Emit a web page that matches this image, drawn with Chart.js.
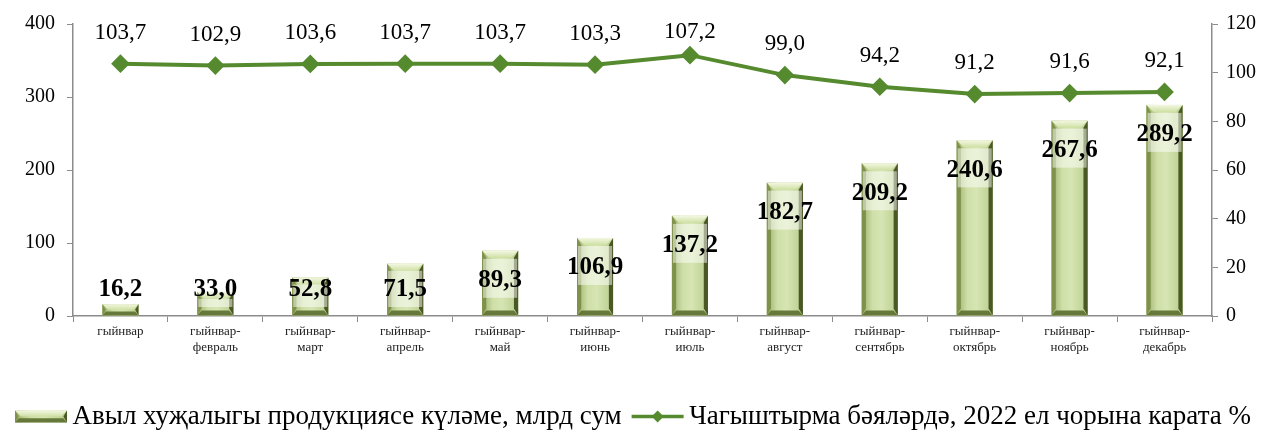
<!DOCTYPE html>
<html>
<head>
<meta charset="utf-8">
<script src="https://cdn.jsdelivr.net/npm/chart.js@4.4.1/dist/chart.umd.min.js"></script>
<style>
  html, body { margin: 0; padding: 0; background: #fff; }
  #wrap { width: 1266px; height: 432px; }
</style>
</head>
<body>
<div id="wrap"><canvas id="chart" width="1266" height="432"></canvas></div>
<script>
// Chart data
const categories = [
  ['гыйнвар'],
  ['гыйнвар-', 'февраль'],
  ['гыйнвар-', 'март'],
  ['гыйнвар-', 'апрель'],
  ['гыйнвар-', 'май'],
  ['гыйнвар-', 'июнь'],
  ['гыйнвар-', 'июль'],
  ['гыйнвар-', 'август'],
  ['гыйнвар-', 'сентябрь'],
  ['гыйнвар-', 'октябрь'],
  ['гыйнвар-', 'ноябрь'],
  ['гыйнвар-', 'декабрь']
];
const volume = [16.2, 33.0, 52.8, 71.5, 89.3, 106.9, 137.2, 182.7, 209.2, 240.6, 267.6, 289.2];
const priceIndex = [103.7, 102.9, 103.6, 103.7, 103.7, 103.3, 107.2, 99.0, 94.2, 91.2, 91.6, 92.1];
const leftTicks = [0, 100, 200, 300, 400];
const rightTicks = [0, 20, 40, 60, 80, 100, 120];
const volumeLabel = 'Авыл хуҗалыгы продукциясе күләме, млрд сум';
const indexLabel = 'Чагыштырма бәяләрдә, 2022 ел чорына карата %';

const FONT = "'Liberation Serif', 'Times New Roman', serif";
const LINE_GREEN = '#558a2f';
const AXIS_GRAY = '#8c8c8c';
const LEGEND_SYMBOL_W = 52;

const fmt = v => v.toFixed(1).replace('.', ',');

// draws one bevelled green column
function drawBevelBar(ctx, l, r, top, bottom) {
  const h = bottom - top;
  if (h <= 0) return;
  const b = Math.min(7, h / 2);
  const face = ctx.createLinearGradient(l, 0, r, 0);
  face.addColorStop(0, '#9db06a');
  face.addColorStop(0.3, '#cfdfa8');
  face.addColorStop(0.55, '#d6e5b3');
  face.addColorStop(1, '#b8cd8c');
  ctx.fillStyle = face;
  ctx.fillRect(l, top, r - l, h);
  // top bevel
  const tg = ctx.createLinearGradient(0, top, 0, top + b);
  tg.addColorStop(0, '#f3f7e2');
  tg.addColorStop(1, '#cfe0a4');
  ctx.fillStyle = tg;
  ctx.beginPath();
  ctx.moveTo(l, top); ctx.lineTo(r, top); ctx.lineTo(r - b, top + b); ctx.lineTo(l + b, top + b);
  ctx.closePath(); ctx.fill();
  // left bevel
  ctx.fillStyle = '#7f914b';
  ctx.beginPath();
  ctx.moveTo(l, top); ctx.lineTo(l + b * 0.6, top + b); ctx.lineTo(l + b * 0.6, bottom - b); ctx.lineTo(l, bottom);
  ctx.closePath(); ctx.fill();
  // right bevel
  ctx.fillStyle = '#4a5826';
  ctx.beginPath();
  ctx.moveTo(r, top); ctx.lineTo(r - b * 0.6, top + b); ctx.lineTo(r - b * 0.6, bottom - b); ctx.lineTo(r, bottom);
  ctx.closePath(); ctx.fill();
  // bottom bevel
  ctx.fillStyle = '#66793a';
  ctx.beginPath();
  ctx.moveTo(l, bottom); ctx.lineTo(r, bottom); ctx.lineTo(r - b * 0.6, bottom - b * 0.7); ctx.lineTo(l + b * 0.6, bottom - b * 0.7);
  ctx.closePath(); ctx.fill();
}

const bevelBars = {
  id: 'bevelBars',
  afterDatasetDraw(chart, args) {
    if (args.index !== 1) return;
    const ctx = chart.ctx;
    ctx.save();
    args.meta.data.forEach(bar => {
      const p = bar.getProps(['x', 'y', 'base', 'width'], true);
      drawBevelBar(ctx, p.x - p.width / 2, p.x + p.width / 2, p.y, p.base);
    });
    ctx.restore();
  }
};

// value labels for columns and line points
const valueLabels = {
  id: 'valueLabels',
  afterDatasetsDraw(chart) {
    const ctx = chart.ctx;
    ctx.save();
    ctx.textAlign = 'center';
    ctx.textBaseline = 'middle';
    // columns
    const barMeta = chart.getDatasetMeta(1);
    const floorY = chart.scales.y.getPixelForValue(0) - 26;
    barMeta.data.forEach((bar, i) => {
      const p = bar.getProps(['x', 'y', 'base', 'width'], true);
      const ly = Math.min(p.y + 30, floorY);
      // light band behind the label, kept inside the column
      const t = Math.max(ly - 22, p.y + 7), bt = Math.min(ly + 17, p.base - 4);
      if (bt > t) {
        ctx.fillStyle = 'rgba(255,255,255,0.5)';
        ctx.fillRect(p.x - p.width / 2 + 1, t, p.width - 2, bt - t);
      }
      ctx.fillStyle = '#000';
      ctx.font = 'bold 25px ' + FONT;
      ctx.fillText(fmt(volume[i]), p.x, ly);
    });
    // line points
    const lineMeta = chart.getDatasetMeta(0);
    ctx.font = '23px ' + FONT;
    lineMeta.data.forEach((pt, i) => {
      const ly = Math.max(pt.y - 31, 32);
      ctx.fillStyle = '#000';
      ctx.fillText(fmt(priceIndex[i]), pt.x, ly);
    });
    ctx.restore();
  },
  afterDraw(chart) {
    // legend symbols
    const lg = chart.legend;
    if (!lg || !lg.legendHitBoxes) return;
    const ctx = chart.ctx;
    const bw = LEGEND_SYMBOL_W;
    ctx.save();
    const h0 = lg.legendHitBoxes[0];
    const cy0 = h0.top + h0.height / 2;
    drawBevelBar(ctx, h0.left, h0.left + bw, cy0 - 6, cy0 + 6);
    const h1 = lg.legendHitBoxes[1];
    const cy1 = h1.top + h1.height / 2;
    ctx.strokeStyle = LINE_GREEN;
    ctx.lineWidth = 3.5;
    ctx.beginPath();
    ctx.moveTo(h1.left, cy1); ctx.lineTo(h1.left + bw, cy1);
    ctx.stroke();
    ctx.fillStyle = LINE_GREEN;
    const cx = h1.left + bw / 2;
    ctx.beginPath();
    ctx.moveTo(cx, cy1 - 6); ctx.lineTo(cx + 6, cy1); ctx.lineTo(cx, cy1 + 6); ctx.lineTo(cx - 6, cy1);
    ctx.closePath(); ctx.fill();
    ctx.restore();
  }
};

const ctx = document.getElementById('chart').getContext('2d');
new Chart(ctx, {
  data: {
    labels: categories,
    datasets: [
      {
        type: 'line',
        label: indexLabel,
        data: priceIndex,
        yAxisID: 'y1',
        borderColor: LINE_GREEN,
        backgroundColor: LINE_GREEN,
        borderWidth: 4,
        pointStyle: 'rectRot',
        pointRadius: 6.5,
        pointHoverRadius: 6.5,
        tension: 0,
        order: 0
      },
      {
        type: 'bar',
        label: volumeLabel,
        data: volume,
        yAxisID: 'y',
        backgroundColor: '#c4d79b',
        barPercentage: 0.76,
        categoryPercentage: 0.5,
        order: 1
      }
    ]
  },
  options: {
    responsive: false,
    animation: false,
    layout: { padding: { top: 24, left: 0, right: 0, bottom: -8 } },
    plugins: {
      tooltip: { enabled: false },
      legend: {
        position: 'bottom',
        labels: {
          font: { family: FONT, size: 27 },
          color: '#000',
          boxWidth: 44,
          boxHeight: 12,
          padding: 10,
          generateLabels: chart => [
            { text: volumeLabel, fillStyle: 'rgba(0,0,0,0)', strokeStyle: 'rgba(0,0,0,0)', lineWidth: 0, datasetIndex: 1 },
            { text: indexLabel, fillStyle: 'rgba(0,0,0,0)', strokeStyle: 'rgba(0,0,0,0)', lineWidth: 0, datasetIndex: 0 }
          ]
        }
      }
    },
    scales: {
      x: {
        grid: { drawOnChartArea: false, tickLength: 6, color: AXIS_GRAY, offset: true },
        border: { color: AXIS_GRAY, width: 1.5 },
        ticks: {
          font: { family: FONT, size: 13 },
          color: '#222',
          maxRotation: 0,
          autoSkip: false,
          padding: 2
        },
        afterFit: s => { s.height = 77; }
      },
      y: {
        position: 'left',
        min: leftTicks[0],
        max: leftTicks[leftTicks.length - 1],
        afterBuildTicks: s => { s.ticks = leftTicks.map(v => ({ value: v })); },
        grid: { drawOnChartArea: false, tickLength: 6, color: AXIS_GRAY },
        border: { color: AXIS_GRAY, width: 1.5 },
        ticks: { font: { family: FONT, size: 20 }, color: '#000', padding: 12 },
        afterFit: s => { s.width = 73; }
      },
      y1: {
        position: 'right',
        min: rightTicks[0],
        max: rightTicks[rightTicks.length - 1],
        afterBuildTicks: s => { s.ticks = rightTicks.map(v => ({ value: v })); },
        grid: { drawOnChartArea: false, tickLength: 6, color: AXIS_GRAY },
        border: { color: AXIS_GRAY, width: 1.5 },
        ticks: { font: { family: FONT, size: 20 }, color: '#000', padding: 8 },
        afterFit: s => { s.width = 54; }
      }
    }
  },
  plugins: [bevelBars, valueLabels]
});
</script>
</body>
</html>
